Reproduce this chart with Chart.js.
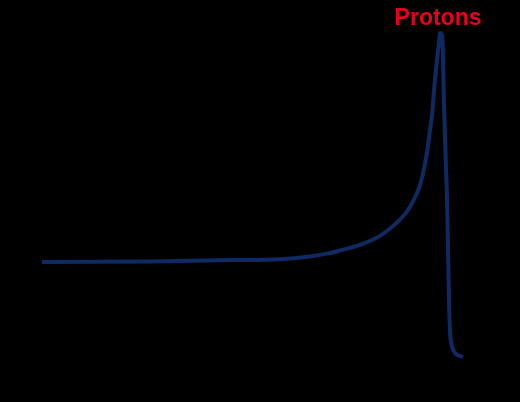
<!DOCTYPE html>
<html>
<head>
<meta charset="utf-8">
<script src="https://cdn.jsdelivr.net/npm/chart.js@4/dist/chart.umd.min.js"></script>
<style>
    html, body { margin: 0; padding: 0; background: #000; }
    #wrap { width: 520px; height: 402px; position: relative; }
</style>
</head>
<body>
<div id="wrap"><canvas id="bragg-chart"></canvas></div>
<script>
// depth (cm) and relative dose (%)
const depth = [0, 7.7, 13.6, 17.0, 19.1, 20.6, 21.3, 22.7, 24.1, 25.3, 26.05, 26.5, 27.0, 27.36, 27.59, 27.71, 27.86, 28.0, 28.21, 28.36, 28.43,
    28.57, 28.64, 28.71, 28.86, 28.93, 29.0, 29.07, 29.14, 29.21, 29.36, 29.57, 29.86, 30.07];
const dose = [29.3, 29.5, 29.9, 30.2, 31.0, 32.1, 32.9, 34.6, 37.3, 41.3, 44.8, 48.0, 53.1, 59.8, 66.0, 70.1, 74.7, 82.4, 91.7, 97.2, 100,
    99.1, 91.7, 78.4, 57.7, 48.5, 33.0, 17.6, 8.3, 4.6, 2.2, 0.9, 0.3, 0];
const seriesLabel = 'Protons';

document.addEventListener("DOMContentLoaded", () => {
    const points = depth.map((d, i) => ({ x: d, y: dose[i] }));

    const peakLabel = {
        id: 'peakLabel',
        afterDatasetsDraw(chart) {
            const ctx = chart.ctx;
            const i = dose.indexOf(Math.max(...dose));
            const px = chart.scales.x.getPixelForValue(depth[i]);
            const py = chart.scales.y.getPixelForValue(dose[i]);
            ctx.save();
            ctx.fillStyle = '#e8001c';
            ctx.font = 'bold 23px "Liberation Sans", Arial, sans-serif';
            ctx.textAlign = 'center';
            ctx.textBaseline = 'alphabetic';
            ctx.fillText(seriesLabel, px - 2, py - 8);
            ctx.restore();
        }
    };

    const braggChart = document.getElementById('bragg-chart');
    new Chart(braggChart, {
        type: 'line',
        data: {
            datasets: [
                {
                    label: seriesLabel,
                    data: points,
                    borderColor: '#0f2a62',
                    borderWidth: 4,
                    pointRadius: 0,
                    tension: 0.4,
                    fill: false
                }
            ]
        },
        options: {
            responsive: true,
            maintainAspectRatio: false,
            animation: false,
            layout: { padding: 0 },
            plugins: {
                legend: { display: false },
                tooltip: { enabled: false }
            },
            scales: {
                x: {
                    type: 'linear',
                    display: false,
                    min: -3,
                    max: 34.14
                },
                y: {
                    display: false,
                    min: -13.9,
                    max: 110.2
                }
            }
        },
        plugins: [peakLabel]
    });
});
</script>
</body>
</html>
